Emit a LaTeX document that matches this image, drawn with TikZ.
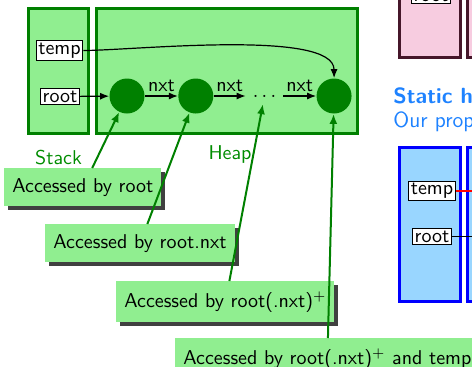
\documentclass[tikz,border=0pt]{standalone}
\usetikzlibrary{positioning,shadows,arrows.meta}
\definecolor{heapgreen}{RGB}{144,238,144}
\definecolor{pinkfill}{RGB}{247,204,224}
\definecolor{pinkedge}{RGB}{70,22,42}
\definecolor{bluefill}{RGB}{153,214,255}
\definecolor{titleblue}{RGB}{30,130,255}
\begin{document}
\begin{tikzpicture}[x=0.5pt, y=-0.5pt, font=\sffamily,
  region/.style={draw=green!50!black, fill=heapgreen, line width=1.5pt},
  var/.style={draw, fill=white, inner sep=1pt, semithick},
  cell/.style={circle, fill=green!50!black, minimum size=17.5pt, inner sep=0pt},
  ptr/.style={-{Latex[length=4.5pt,width=3.5pt]}, semithick},
  access/.style={fill=heapgreen, inner xsep=4pt, inner ysep=5pt, anchor=north west,
    general shadow={fill=black!75, shadow xshift=2pt, shadow yshift=-2pt}},
  accarrow/.style={-{Latex[length=5pt,width=4pt]}, draw=green!50!black, line width=1pt}]

  \useasboundingbox (0,0) rectangle (472,366);
  \clip (0,0) rectangle (472,366);

  % stack and heap
  \node [region, minimum width=30pt, minimum height=62.5pt] at (58.5,71) (stack) {};
  \node [region, minimum width=130.5pt, minimum height=62.5pt] at (227,71) (heap) {};
  \node [text=green!55!black, below=4pt of stack] (stacklbl) {Stack};
  \node [text=green!55!black] at (230,154) (heaplbl) {Heap};

  \node [var] at (59.5,50.5) (temp) {temp};
  \node [var] at (60,96.5) (root) {root};

  \node [cell] at (127,96) (c1) {};
  \node [cell, right=16.5pt of c1] (c2) {};
  \node [right=16pt of c2] (dots) {$\dots$};
  \node [cell, right=16.5pt of dots] (last) {};

  \draw [ptr] (root) -- (c1);
  \draw [ptr] (c1) -- node [above, inner sep=2pt] {nxt} (c2);
  \draw [ptr] (c2) -- node [above, inner sep=2pt] {nxt} (dots);
  \draw [ptr] (dots) -- node [above, inner sep=2pt] {nxt} (last);
  \draw [ptr] (temp) to [out=0, in=90, looseness=0.5] (last);

  % who reaches what
  \node [access] at (4,168) (acc1) {Accessed by root};
  \node [access] at (45,224) (acc2) {Accessed by root.nxt};
  \node [access] at (116,281) (acc3) {Accessed by root(.nxt)$^+$};
  \node [access] at (175,338) (acc4) {Accessed by root(.nxt)$^+$ and temp};

  \draw [accarrow] (acc1) -- (c1);
  \draw [accarrow] (acc2) -- (c2);
  \draw [accarrow] (acc3) -- (dots);
  \draw [accarrow] (acc4) -- (last);

  % next pictures on the right
  \node [draw=pinkedge, fill=pinkfill, line width=1.5pt, minimum width=30.5pt, minimum height=63.5pt] at (430,-6) (pstack) {};
  \node [draw=pinkedge, fill=pinkfill, line width=1.5pt, minimum width=130pt, minimum height=63.5pt] at (597.5,-6) (pheap) {};
  \node [var] at (431,-4.5) (proot) {root};

  \node [anchor=base west, inner sep=0pt, text=titleblue, font=\sffamily\bfseries\fontsize{11}{12}\selectfont] at (393,103) (static) {Static heap};
  \node [anchor=base west, inner sep=0pt, text=titleblue, font=\sffamily\fontsize{11}{12}\selectfont] at (393,127) (ours) {Our proposal};

  \node [draw=blue, fill=bluefill, line width=1.5pt, minimum width=30.5pt, minimum height=77pt] at (430,224.5) (bstack) {};
  \node [draw=blue, fill=bluefill, line width=1.5pt, minimum width=130pt, minimum height=77pt] at (597.5,224.5) (bheap) {};
  \node [var] at (432,191) (btemp) {temp};
  \node [var] at (432,236.5) (broot) {root};
  \coordinate (btempout) at (480,191);
  \coordinate (brootout) at (480,236.5);
  \draw [red, semithick] (btemp) -- (btempout);
  \draw [semithick] (broot) -- (brootout);

\end{tikzpicture}
\end{document}
